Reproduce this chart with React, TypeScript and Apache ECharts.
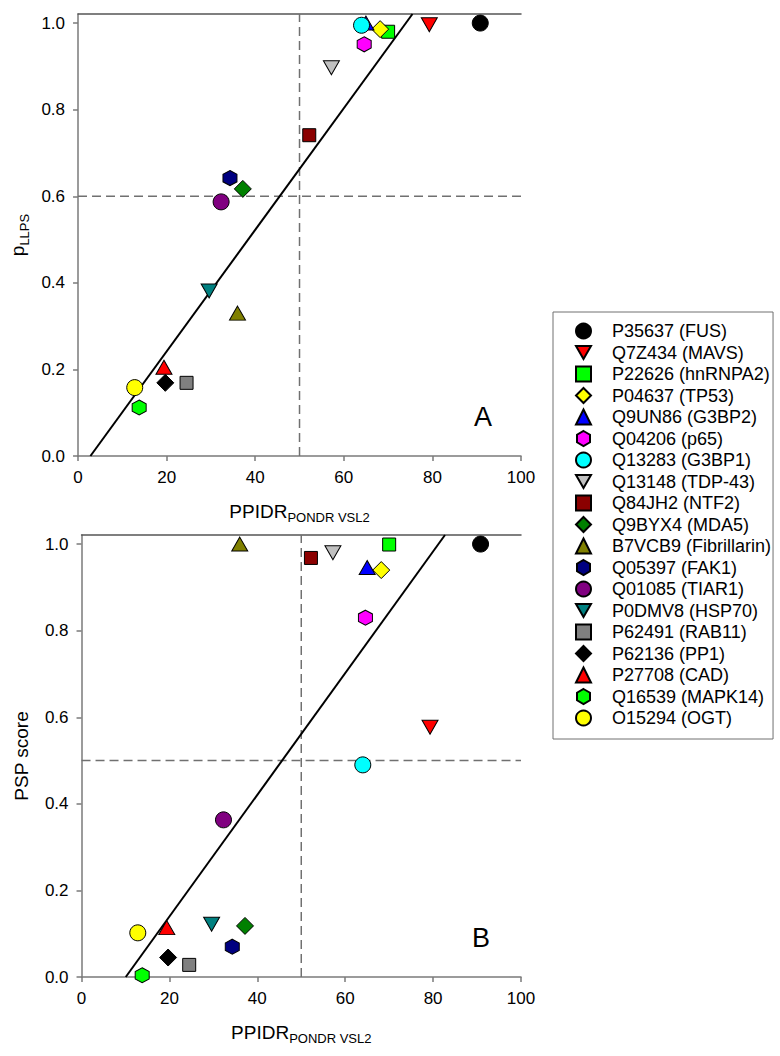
import React, { useEffect, useRef } from "react";
import * as echarts from "echarts";

const proteins = [
  "P35637 (FUS)", "Q7Z434 (MAVS)", "P22626 (hnRNPA2)", "P04637 (TP53)", "Q9UN86 (G3BP2)",
  "Q04206 (p65)", "Q13283 (G3BP1)", "Q13148 (TDP-43)", "Q84JH2 (NTF2)", "Q9BYX4 (MDA5)",
  "B7VCB9 (Fibrillarin)", "Q05397 (FAK1)", "Q01085 (TIAR1)", "P0DMV8 (HSP70)", "P62491 (RAB11)",
  "P62136 (PP1)", "P27708 (CAD)", "Q16539 (MAPK14)", "O15294 (OGT)",
];
const ppidr = [90.8, 79.3, 70.0, 68.2, 65.0, 64.6, 64.0, 57.2, 52.2, 37.2, 36.0, 34.3, 32.3, 29.6, 24.5, 19.7, 19.4, 13.8, 12.8];
const pLLPS = [1.0, 0.996, 0.98, 0.986, 1.0, 0.951, 0.995, 0.897, 0.741, 0.617, 0.33, 0.642, 0.587, 0.381, 0.169, 0.169, 0.205, 0.112, 0.158];
const pspScore = [1.0, 0.577, 0.999, 0.94, 0.946, 0.83, 0.49, 0.98, 0.968, 0.118, 1.0, 0.07, 0.363, 0.122, 0.028, 0.045, 0.114, 0.004, 0.102];
const colors = [
  "#000000", "#ff0000", "#00ff00", "#ffff00", "#0000ff", "#ff00ff", "#00ffff", "#c0c0c0", "#8b0000", "#008000",
  "#808000", "#000080", "#800080", "#008080", "#808080", "#000000", "#ff0000", "#00ff00", "#ffff00",
];
const shapes = [
  "circle", "down", "square", "diamond", "up", "hex", "circle", "down", "square", "diamond",
  "up", "hex", "circle", "down", "square", "diamond", "up", "hex", "circle",
];
const fitA = [[2.8, 0], [75.5, 1.021]];
const fitB = [[10.06, 0], [82.7, 1.021]];
const xCut = 50;
const yCutA = 0.6;
const yCutB = 0.5;
const xTicks = { min: 0, max: 100, interval: 20 };
const yTicks = { min: 0, max: 1.021, interval: 0.2 };

const DOWN = "path://M0,0L2,0L1,1.75Z";
const HEX = "path://M0.866,0L1.732,0.5L1.732,1.5L0.866,2L0,1.5L0,0.5Z";

function symbolFor(s: string): [string, number | number[]] {
  switch (s) {
    case "circle": return ["circle", 16];
    case "square": return ["rect", 13];
    case "diamond": return ["diamond", 17];
    case "up": return ["triangle", [16, 14]];
    case "down": return [DOWN, [16, 14]];
    default: return [HEX, [14, 15]];
  }
}

const FONT = "Arial, 'Liberation Sans', sans-serif";

export default function App() {
  const ref = useRef<HTMLDivElement>(null);
  useEffect(() => {
    if (!ref.current) return;
    const chart = echarts.init(ref.current, undefined, { renderer: "svg" });
    const grids = [
      { left: 77, top: 14, width: 444, height: 442 },
      { left: 77, top: 535, width: 444, height: 442 },
    ];
    const xName = {
      name: "{a|PPIDR}{b|PONDR VSL2}",
      nameLocation: "middle",
      nameGap: 42,
      nameTextStyle: {
        rich: {
          a: { fontSize: 19, lineHeight: 26, fontFamily: FONT, color: "#000" },
          b: { fontSize: 13, lineHeight: 10, verticalAlign: "bottom", fontFamily: FONT, color: "#000" },
        },
      },
    };
    const axisLineGray = { show: true, lineStyle: { color: "#7a7a7a", width: 1.5 } };
    const mkX = (gi: number) => ({
      type: "value", gridIndex: gi, ...xTicks, position: "bottom",
      axisLine: axisLineGray,
      axisTick: { show: true, length: 5, lineStyle: { color: "#7a7a7a", width: 1.5 } },
      axisLabel: { fontSize: 17, color: "#000", fontFamily: FONT, margin: 13 },
      splitLine: { show: false },
      ...xName,
    });
    const mkTop = (gi: number) => ({
      type: "value", gridIndex: gi, ...xTicks, position: "top",
      axisLine: { show: true, lineStyle: { color: "#555", width: 1.5 } },
      axisTick: { show: false }, axisLabel: { show: false }, splitLine: { show: false },
    });
    const mkY = (gi: number, name: string, rich?: any) => ({
      type: "value", gridIndex: gi, ...yTicks,
      axisLine: axisLineGray,
      axisTick: { show: true, length: 5, lineStyle: { color: "#7a7a7a", width: 1.5 } },
      axisLabel: {
        fontSize: 17, color: "#000", fontFamily: FONT, margin: 13,
        formatter: (v: number) => v.toFixed(1),
      },
      splitLine: { show: false },
      name, nameLocation: "middle", nameGap: 46,
      nameTextStyle: rich
        ? { rich }
        : { fontSize: 19, lineHeight: 26, fontFamily: FONT, color: "#000" },
    });

    const series: any[] = [];
    [pLLPS, pspScore].forEach((ys, gi) => {
      proteins.forEach((name, i) => {
        const [symbol, size] = symbolFor(shapes[i]);
        series.push({
          type: "scatter", name, xAxisIndex: gi, yAxisIndex: gi,
          symbol, symbolSize: size,
          itemStyle: { color: colors[i], borderColor: "#000", borderWidth: 1, opacity: 1 },
          data: [[ppidr[i], ys[i]]],
          z: 5 + i * 0.01,
        });
      });
    });
    const dash = { color: "#707070", width: 1.5, type: [9, 5] };
    [[yCutA, fitA], [yCutB, fitB]].forEach(([yc, fit]: any, gi) => {
      series.push({
        type: "line", xAxisIndex: gi, yAxisIndex: gi, symbol: "none", silent: true,
        data: [[xCut, 0], [xCut, yTicks.max]], lineStyle: dash, z: 2,
      });
      series.push({
        type: "line", xAxisIndex: gi, yAxisIndex: gi, symbol: "none", silent: true,
        data: [[xTicks.min, yc], [xTicks.max, yc]], lineStyle: dash, z: 2,
      });
      series.push({
        type: "line", xAxisIndex: gi, yAxisIndex: gi, symbol: "none", silent: true,
        data: fit, lineStyle: { color: "#000", width: 2 }, z: 3,
      });
    });

    chart.setOption({
      animation: false,
      grid: grids,
      xAxis: [mkX(0), mkX(1), mkTop(0), mkTop(1)],
      yAxis: [
        mkY(0, "{a|p}{b|LLPS}", {
          a: { fontSize: 19, lineHeight: 26, fontFamily: FONT, color: "#000" },
          b: { fontSize: 13, lineHeight: 10, verticalAlign: "bottom", fontFamily: FONT, color: "#000" },
        }),
        mkY(1, "PSP score"),
      ],
      legend: {
        data: proteins,
        orient: "vertical",
        left: 553,
        top: 312,
        padding: [10, 2, 12, 22],
        itemWidth: 15,
        itemHeight: 15,
        itemGap: 3.5,
        selectedMode: false,
        borderColor: "#707070",
        borderWidth: 1,
        formatter: (n: string) => "{t|" + n + "}",
        textStyle: {
          rich: { t: { fontSize: 18, lineHeight: 15, color: "#000", fontFamily: FONT, padding: [0, 0, 0, 16] } },
        },
      },
      graphic: [
        { type: "text", left: 474, top: 403, style: { text: "A", fontSize: 27, fill: "#000", fontFamily: FONT } },
        { type: "text", left: 472, top: 924, style: { text: "B", fontSize: 27, fill: "#000", fontFamily: FONT } },
      ],
      series,
    });
    return () => chart.dispose();
  }, []);
  return <div ref={ref} style={{ position: "absolute", left: 0, top: 0, width: 780, height: 1056 }} />;
}
